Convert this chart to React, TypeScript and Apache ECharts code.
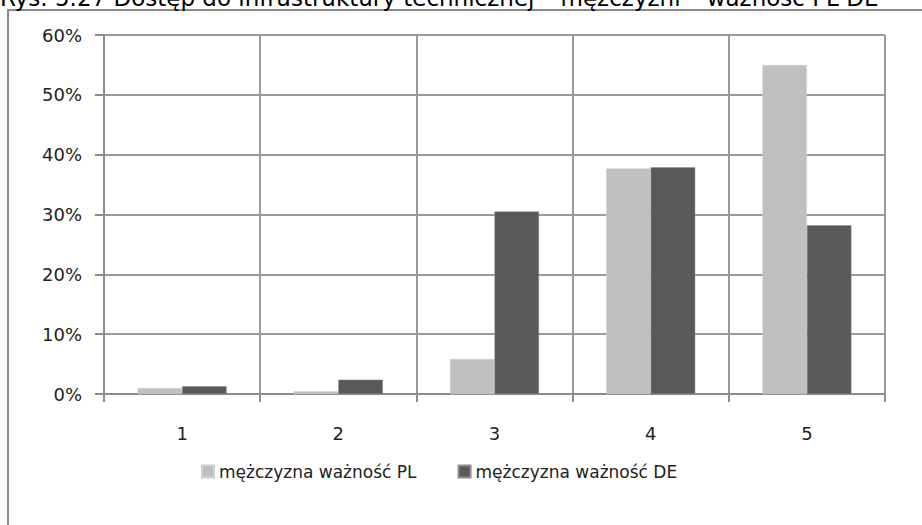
import React, { useEffect, useRef } from "react";
import * as echarts from "echarts";

const titleText = "Rys. 5.27 Dostęp do infrastruktury technicznej – mężczyźni – ważność PL DE";
const categories = ["1", "2", "3", "4", "5"];
const seriesNames = ["mężczyzna ważność PL", "mężczyzna ważność DE"];
const valuesPL = [1.0, 0.45, 5.85, 37.7, 55.0];
const valuesDE = [1.3, 2.4, 30.5, 37.9, 28.2];
const yTicks = { min: 0, max: 60, interval: 10 };

const FONT = "DejaVu Sans";

export default function App() {
  const ref = useRef<HTMLDivElement>(null);
  useEffect(() => {
    if (!ref.current) return;
    const chart = echarts.init(ref.current, undefined, { renderer: "svg" });
    chart.setOption({
      animation: false,
      backgroundColor: "#ffffff",
      textStyle: { fontFamily: FONT },
      graphic: [
        {
          type: "polyline",
          shape: { points: [[8, 600], [8, 10], [1000, 10]] },
          style: { stroke: "#8a8a8a", lineWidth: 2, fill: "none" },
          silent: true,
        },
        {
          type: "text",
          x: 0,
          y: -2,
          style: {
            text: titleText,
            font: `23px "${FONT}"`,
            fill: "#000",
            align: "left",
            verticalAlign: "middle",
          },
        },
      ],
      grid: { left: 104, right: 37, top: 35, bottom: 131, containLabel: false },
      legend: {
        left: 196,
        top: 458,
        itemWidth: 12,
        itemHeight: 12,
        itemGap: 41,
        icon: "rect",
        textStyle: { fontSize: 17, color: "#222", fontFamily: FONT },
        data: seriesNames,
      },
      xAxis: {
        type: "category",
        data: categories,
        boundaryGap: true,
        axisLine: { show: true, lineStyle: { color: "#8c8c8c", width: 2 } },
        axisTick: { show: true, length: 8, alignWithLabel: false, lineStyle: { color: "#8c8c8c", width: 2 } },
        splitLine: { show: true, lineStyle: { color: "#9a9a9a", width: 2 } },
        axisLabel: { fontSize: 18, color: "#222", margin: 30, fontFamily: FONT },
      },
      yAxis: {
        type: "value",
        min: yTicks.min,
        max: yTicks.max,
        interval: yTicks.interval,
        axisLine: { show: true, lineStyle: { color: "#8c8c8c", width: 2 } },
        axisTick: { show: true, length: 9, lineStyle: { color: "#8c8c8c", width: 2 } },
        splitLine: { show: true, lineStyle: { color: "#9a9a9a", width: 2 } },
        axisLabel: { fontSize: 18, color: "#222", margin: 22, formatter: "{value}%", fontFamily: FONT },
      },
      series: [
        {
          name: seriesNames[0],
          type: "bar",
          data: valuesPL,
          barGap: "0%",
          barCategoryGap: "43%",
          itemStyle: { color: "#c0c0c0", borderColor: "#d0d0d0", borderWidth: 0.5 },
        },
        {
          name: seriesNames[1],
          type: "bar",
          data: valuesDE,
          barGap: "0%",
          barCategoryGap: "43%",
          itemStyle: { color: "#595959", borderColor: "#8c8c8c", borderWidth: 0.5 },
        },
      ],
    });
    return () => chart.dispose();
  }, []);
  return (
    <div
      ref={ref}
      style={{ position: "fixed", left: 0, top: 0, width: 922, height: 525, background: "#fff" }}
    />
  );
}
